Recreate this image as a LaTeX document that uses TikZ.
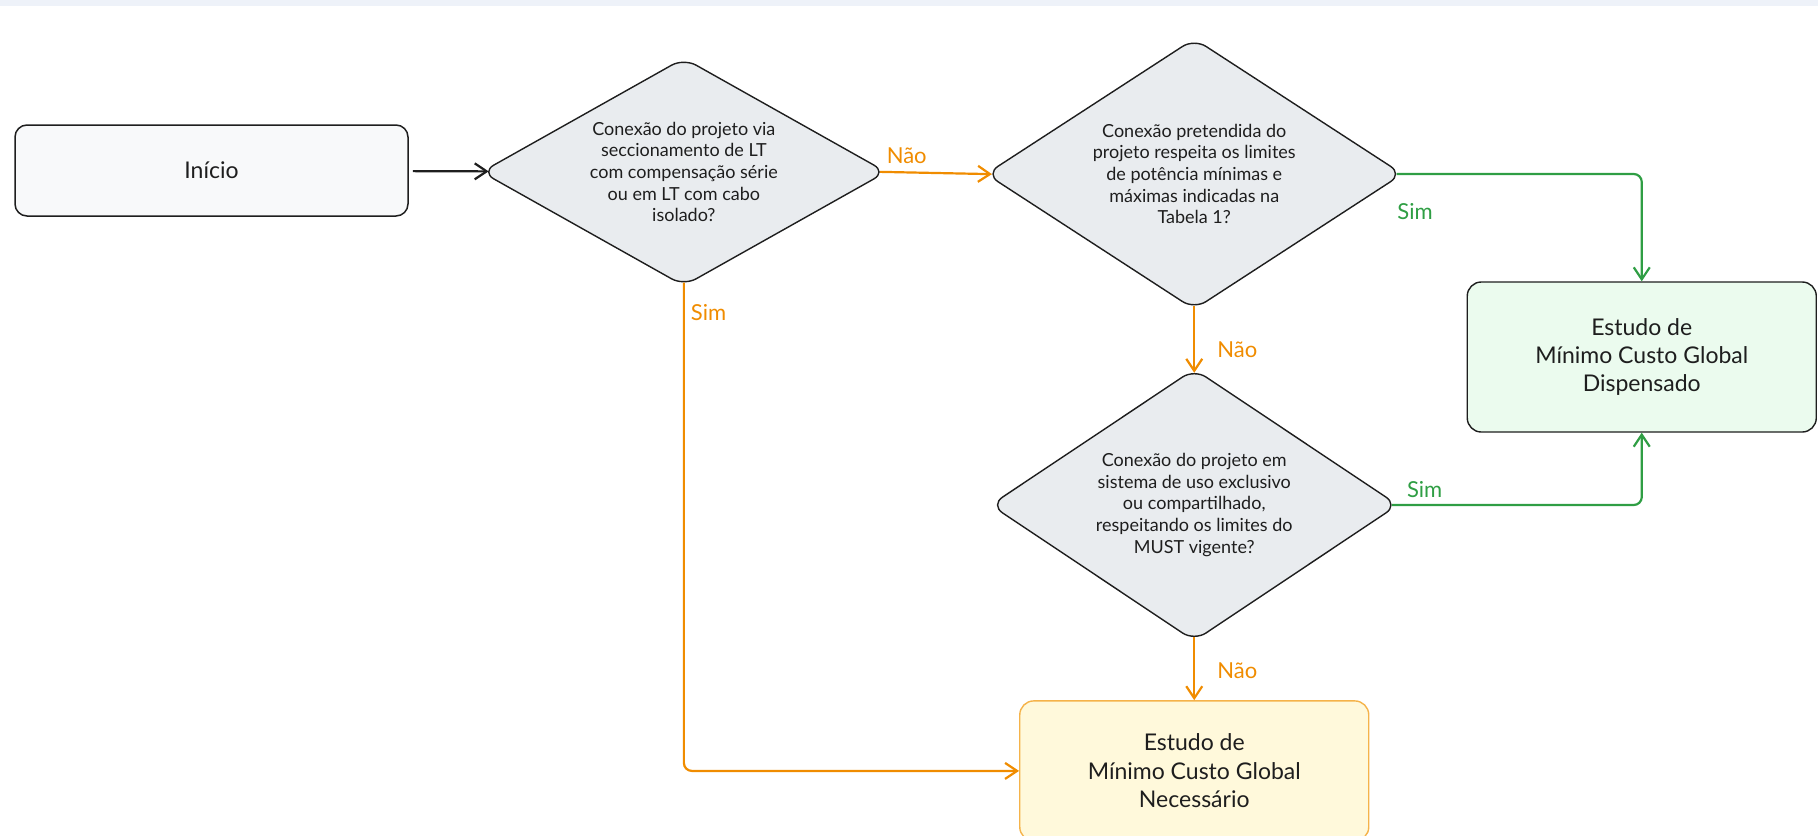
\documentclass[tikz,border=0pt]{standalone}
\usepackage{fontspec}
\setmainfont{Lato}
\usetikzlibrary{positioning,shapes.geometric,arrows.meta}

\definecolor{ink}{HTML}{1E1E1E}
\definecolor{orangeline}{HTML}{F08C00}
\definecolor{greenline}{HTML}{2F9E44}
\definecolor{grayfill}{HTML}{E9ECEF}
\definecolor{startfill}{HTML}{F8F9FA}
\definecolor{greenfill}{HTML}{EBFBEE}
\definecolor{yellowfill}{HTML}{FFF9DB}
\definecolor{yellowline}{HTML}{F5B34A}
\definecolor{topband}{HTML}{EEF2F9}

\tikzset{
  startbox/.style={draw=ink, fill=startfill, rounded corners=6pt, line width=0.75pt,
    minimum width=196.5pt, minimum height=45.5pt, text=ink, font=\fontsize{11.5}{14.2}\selectfont},
  decision/.style={diamond, draw=ink, fill=grayfill, rounded corners=7pt, line width=0.7pt,
    inner sep=0pt, align=center, text=ink, font=\fontsize{9}{10.85}\selectfont},
  endbox/.style={draw=ink, rounded corners=7pt, line width=0.7pt, minimum width=174.5pt,
    align=center, text=ink, font=\fontsize{11.5}{14.2}\selectfont},
  flow/.style={line width=1.1pt, -{Straight Barb[length=6pt,width=8pt]}, rounded corners=4pt},
  orangeflow/.style={flow, draw=orangeline},
  greenflow/.style={flow, draw=greenline},
  lbl/.style={inner sep=1pt, font=\fontsize{11}{13}\selectfont},
}

\begin{document}
\begin{tikzpicture}[x=0.5pt,y=-0.5pt]
\useasboundingbox (0,0) rectangle (1818,835);
\fill[topband] (0,0) rectangle (1818,6);

% Define nodes
\node[startbox] (start) at (211.5,170.5) {Início};
\node[decision, right=35.9pt of start, yshift=-0.75pt, shape aspect=1.78,
  minimum width=202.6pt, minimum height=114pt] (q1)
  {Conexão do projeto via\\seccionamento de LT\\com compensação série\\ou em LT com cabo\\isolado?};
\node[decision, right=49pt of q1, yshift=-1pt, shape aspect=1.54,
  minimum width=208.4pt, minimum height=135.5pt] (q2)
  {Conexão pretendida do\\projeto respeita os limites\\de potência mínimas e\\máximas indicadas na\\Tabela 1?};
\node[decision, below=29pt of q2, shape aspect=1.5,
  minimum width=203.8pt, minimum height=136.1pt] (q3)
  {Conexão do projeto em\\sistema de uso exclusivo\\ou compartilhado,\\respeitando os limites do\\MUST vigente?};
\node[endbox, fill=greenfill, minimum height=75pt, right=31.6pt of q2, yshift=-91.5pt] (dispensado)
  {Estudo de\\Mínimo Custo Global\\Dispensado};
\node[endbox, draw=yellowline, fill=yellowfill, minimum height=70pt, below=29.2pt of q3] (necessario)
  {Estudo de\\Mínimo Custo Global\\Necessário};

% Connect the nodes
\draw[flow, draw=ink, shorten <=2pt, shorten >=-3.5pt] (start) -- (q1);
\draw[orangeflow, shorten <=-3.5pt, shorten >=-3.4pt] (q1.east) -- node[lbl, text=orangeline, pos=0.2, above=3pt] {Não} (q2.west);
\draw[orangeflow, shorten <=-2pt] (q1.south) |- node[lbl, text=orangeline, pos=0.027, right=2pt] {Sim} (necessario.west);
\draw[orangeflow, shorten <=-2.2pt, shorten >=-2.3pt] (q2.south) -- node[lbl, text=orangeline, pos=0.68, anchor=west, xshift=10pt] {Não} (q3.north);
\draw[orangeflow, shorten <=-2.3pt] (q3.south) -- node[lbl, text=orangeline, pos=0.5, anchor=west, xshift=10pt] {Não} (necessario.north);
\draw[greenflow, shorten <=-3.4pt] (q2.east) -| node[lbl, text=greenline, pos=0, anchor=west, yshift=-19pt, xshift=-4.5pt] {Sim} (dispensado.north);
\draw[greenflow, shorten <=-3.4pt] (q3.east) -| node[lbl, text=greenline, pos=0, anchor=west, yshift=7.5pt, xshift=2.6pt] {Sim} (dispensado.south);

\end{tikzpicture}
\end{document}
